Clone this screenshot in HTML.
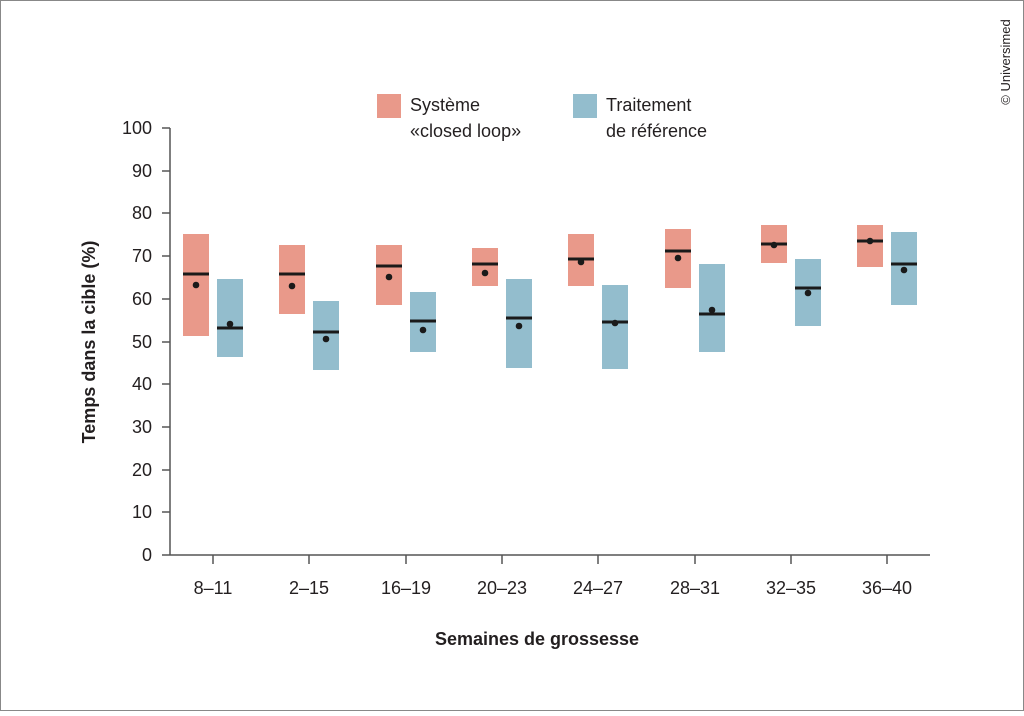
<!DOCTYPE html>
<html><head><meta charset="utf-8"><style>
body{margin:0;background:#fff}
svg text{font-family:"Liberation Sans",sans-serif;fill:#231f20}
</style></head><body>
<svg width="1024" height="711" viewBox="0 0 1024 711" xmlns="http://www.w3.org/2000/svg">
<rect x="0.5" y="0.5" width="1023" height="710" fill="#fff" stroke="#888" stroke-width="1"/>
<text transform="translate(1010,62) rotate(-90)" font-size="13" text-anchor="middle">© Universimed</text>
<rect x="377" y="94" width="24" height="24" fill="#E9998A"/>
<text x="410" y="111" font-size="18">Système</text>
<text x="410" y="137" font-size="18">«closed loop»</text>
<rect x="573" y="94" width="24" height="24" fill="#93BDCD"/>
<text x="606" y="111" font-size="18">Traitement</text>
<text x="606" y="137" font-size="18">de référence</text>
<g stroke="#555" stroke-width="1.5">
<line x1="170" y1="128" x2="170" y2="555"/>
<line x1="162" y1="555" x2="930" y2="555"/>
<line x1="162" y1="128" x2="170" y2="128"/><line x1="162" y1="171" x2="170" y2="171"/>
<line x1="162" y1="213" x2="170" y2="213"/><line x1="162" y1="256" x2="170" y2="256"/>
<line x1="162" y1="299" x2="170" y2="299"/><line x1="162" y1="342" x2="170" y2="342"/>
<line x1="162" y1="384" x2="170" y2="384"/><line x1="162" y1="427" x2="170" y2="427"/>
<line x1="162" y1="470" x2="170" y2="470"/><line x1="162" y1="512" x2="170" y2="512"/>
<line x1="213" y1="555" x2="213" y2="564"/><line x1="309" y1="555" x2="309" y2="564"/>
<line x1="406" y1="555" x2="406" y2="564"/><line x1="502" y1="555" x2="502" y2="564"/>
<line x1="598" y1="555" x2="598" y2="564"/><line x1="695" y1="555" x2="695" y2="564"/>
<line x1="791" y1="555" x2="791" y2="564"/><line x1="887" y1="555" x2="887" y2="564"/>
</g>
<g font-size="18" text-anchor="end">
<text x="152" y="134">100</text><text x="152" y="177">90</text><text x="152" y="219">80</text>
<text x="152" y="262">70</text><text x="152" y="305">60</text><text x="152" y="348">50</text>
<text x="152" y="390">40</text><text x="152" y="433">30</text><text x="152" y="476">20</text>
<text x="152" y="518">10</text><text x="152" y="561">0</text>
</g>
<g font-size="18" text-anchor="middle">
<text x="213" y="594">8–11</text><text x="309" y="594">2–15</text><text x="406" y="594">16–19</text>
<text x="502" y="594">20–23</text><text x="598" y="594">24–27</text><text x="695" y="594">28–31</text>
<text x="791" y="594">32–35</text><text x="887" y="594">36–40</text>
</g>
<text transform="translate(95,342) rotate(-90)" font-size="18" font-weight="bold" text-anchor="middle">Temps dans la cible (%)</text>
<text x="537" y="645" font-size="18" font-weight="bold" text-anchor="middle">Semaines de grossesse</text>
<g fill="#E9998A">
<rect x="183" y="234" width="26" height="102"/><rect x="279" y="245" width="26" height="69"/>
<rect x="376" y="245" width="26" height="60"/><rect x="472" y="248" width="26" height="38"/>
<rect x="568" y="234" width="26" height="52"/><rect x="665" y="229" width="26" height="59"/>
<rect x="761" y="225" width="26" height="38"/><rect x="857" y="225" width="26" height="42"/>
</g>
<g fill="#93BDCD">
<rect x="217" y="279" width="26" height="78"/><rect x="313" y="301" width="26" height="69"/>
<rect x="410" y="292" width="26" height="60"/><rect x="506" y="279" width="26" height="89"/>
<rect x="602" y="285" width="26" height="84"/><rect x="699" y="264" width="26" height="88"/>
<rect x="795" y="259" width="26" height="67"/><rect x="891" y="232" width="26" height="73"/>
</g>
<g fill="#1a1a1a">
<rect x="183" y="272.5" width="26" height="3"/><rect x="279" y="272.5" width="26" height="3"/>
<rect x="376" y="264.5" width="26" height="3"/><rect x="472" y="262.5" width="26" height="3"/>
<rect x="568" y="257.5" width="26" height="3"/><rect x="665" y="249.5" width="26" height="3"/>
<rect x="761" y="242.5" width="26" height="3"/><rect x="857" y="239.5" width="26" height="3"/>
<rect x="217" y="326.5" width="26" height="3"/><rect x="313" y="330.5" width="26" height="3"/>
<rect x="410" y="319.5" width="26" height="3"/><rect x="506" y="316.5" width="26" height="3"/>
<rect x="602" y="320.5" width="26" height="3"/><rect x="699" y="312.5" width="26" height="3"/>
<rect x="795" y="286.5" width="26" height="3"/><rect x="891" y="262.5" width="26" height="3"/>
<circle cx="196" cy="285" r="3.3"/><circle cx="292" cy="286" r="3.3"/>
<circle cx="389" cy="277" r="3.3"/><circle cx="485" cy="273" r="3.3"/>
<circle cx="581" cy="262" r="3.3"/><circle cx="678" cy="258" r="3.3"/>
<circle cx="774" cy="245" r="3.3"/><circle cx="870" cy="241" r="3.3"/>
<circle cx="230" cy="324" r="3.3"/><circle cx="326" cy="339" r="3.3"/>
<circle cx="423" cy="330" r="3.3"/><circle cx="519" cy="326" r="3.3"/>
<circle cx="615" cy="323" r="3.3"/><circle cx="712" cy="310" r="3.3"/>
<circle cx="808" cy="293" r="3.3"/><circle cx="904" cy="270" r="3.3"/>
</g>
</svg>
</body></html>
